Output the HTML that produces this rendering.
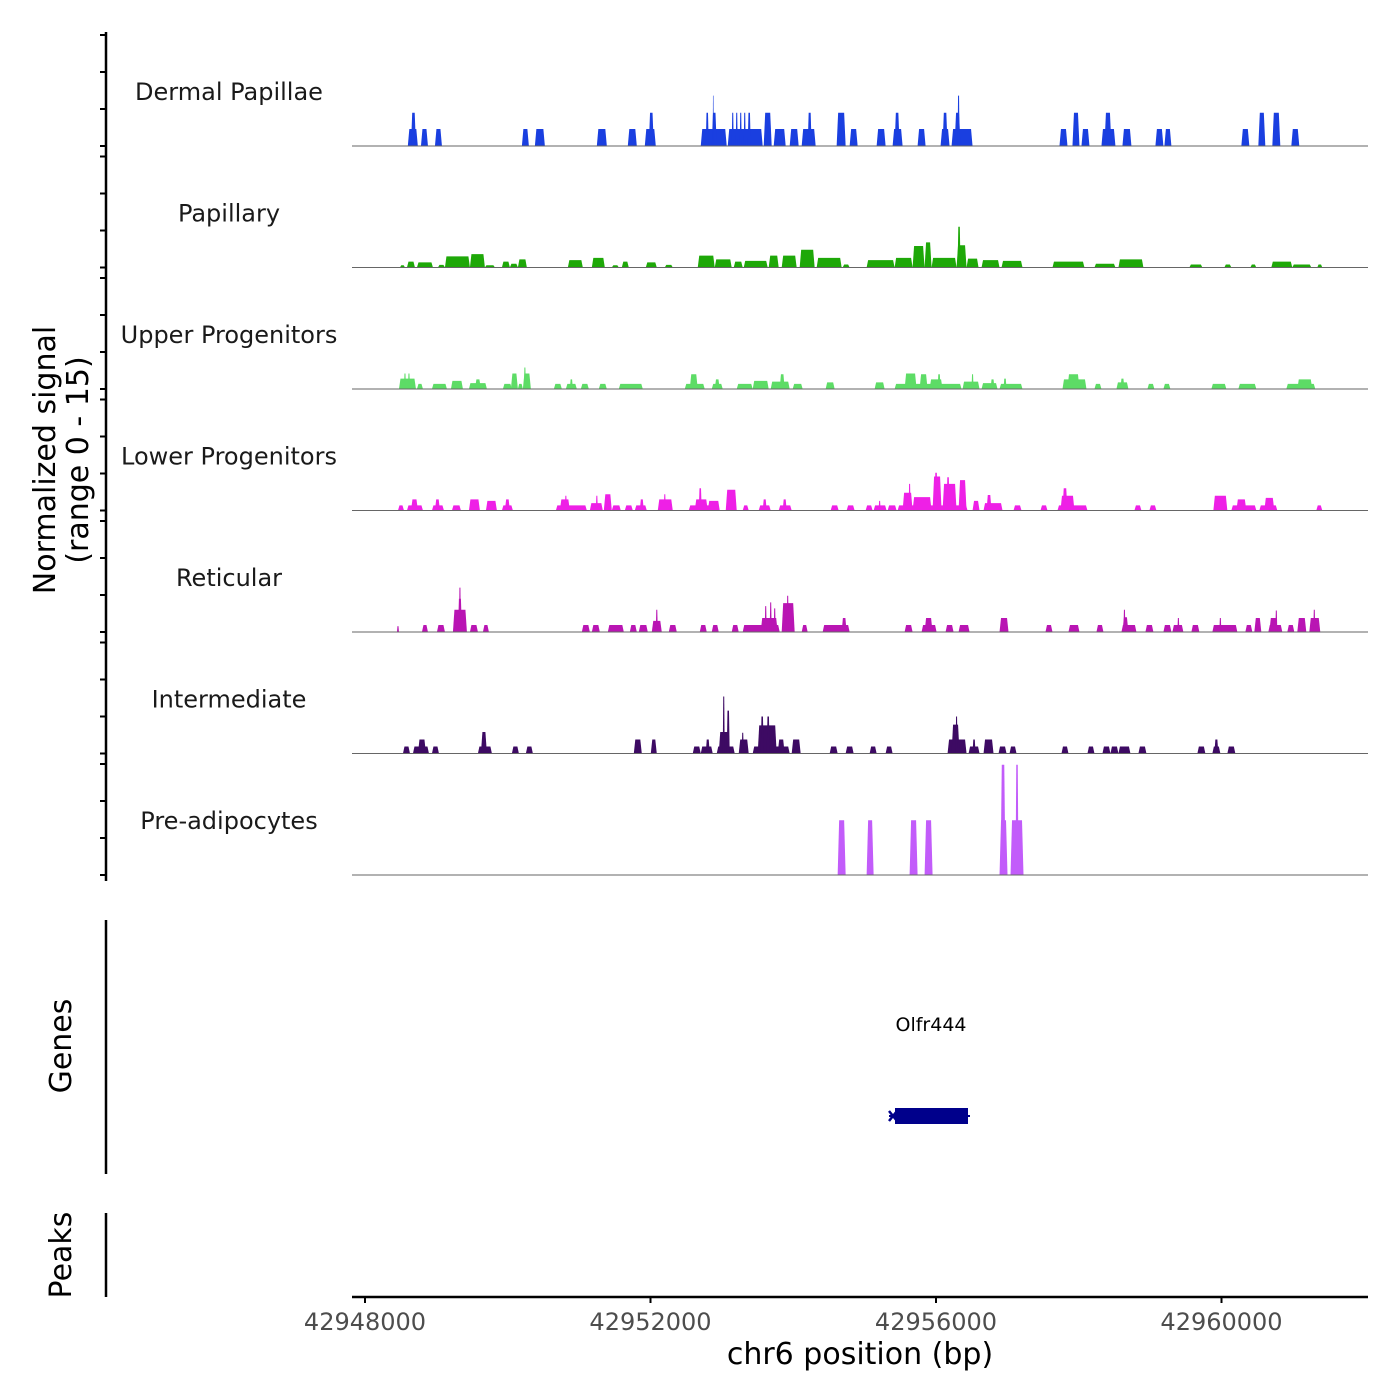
<!DOCTYPE html>
<html><head><meta charset="utf-8"><style>
html,body{margin:0;padding:0;background:#fff;}
svg{display:block;font-family:"DejaVu Sans","Liberation Sans",sans-serif;}
</style></head><body>
<svg id="chart" width="1400" height="1400" viewBox="0 0 1400 1400" xmlns="http://www.w3.org/2000/svg">
<rect width="1400" height="1400" fill="#fff"/>
<g id="tracks"></g>
<g id="axes"></g>
<text x="0" y="0" transform="translate(58,460) rotate(-90)" text-anchor="middle" font-size="30" fill="#000"><tspan x="0" dy="-3">Normalized signal</tspan><tspan x="0" dy="33">(range 0 - 15)</tspan></text>
<line x1="106" y1="920" x2="106" y2="1174" stroke="#000" stroke-width="2.5"/>
<text transform="translate(71,1046) rotate(-90)" text-anchor="middle" font-size="30" fill="#000">Genes</text>
<line x1="106" y1="1213" x2="106" y2="1297" stroke="#000" stroke-width="2.5"/>
<text transform="translate(71,1255) rotate(-90)" text-anchor="middle" font-size="30" fill="#000">Peaks</text>
<g>
<text x="931" y="1031" text-anchor="middle" font-size="19" fill="#000">Olfr444</text>
<line x1="889" y1="1116" x2="970" y2="1116" stroke="#00008b" stroke-width="2"/>
<rect x="895" y="1108" width="73" height="16" fill="#00008b"/>
<path d="M889,1111 L897,1121 M889,1121 L897,1111" fill="none" stroke="#00008b" stroke-width="2.5"/>
</g>
<text x="860" y="1364" text-anchor="middle" font-size="30" fill="#000">chr6 position (bp)</text>
</svg>
<script>
const regionStart = 42948000;
const trackNames = ["Dermal Papillae","Papillary","Upper Progenitors","Lower Progenitors","Reticular","Intermediate","Pre-adipocytes"];
const trackColors = ["#1a3fe0","#1ea808","#5ddc66","#ee20e6","#b915b3","#3d0a63","#c25cfa"];
const xTicks = [42948000, 42952000, 42956000, 42960000];
const yTicks = [0, 5, 10, 15];
// segments: [start offset bp, end offset bp, signal]
const dermalPapillae = [[600,740,2.3],[644,714,4.5],[784,882,2.3],[980,1078,2.3],[2198,2296,2.3],[2380,2520,2.3],[3248,3388,2.3],[3682,3808,2.3],[3920,4074,2.3],[3976,4046,4.5],[4704,5068,2.3],[4774,4816,4.5],[4858,4928,4.5],[4872,4886,6.8],[5082,5572,2.3],[5138,5166,4.5],[5194,5222,4.5],[5250,5278,4.5],[5306,5334,4.5],[5362,5404,4.5],[5586,5698,4.5],[5726,5894,2.3],[5950,6076,2.3],[6118,6314,2.3],[6202,6258,4.5],[6608,6734,4.5],[6790,6902,2.3],[7168,7294,2.3],[7392,7532,2.3],[7420,7490,4.5],[7742,7854,2.3],[8064,8190,2.3],[8092,8162,4.5],[8218,8512,2.3],[8260,8344,4.5],[8302,8330,6.8],[9730,9842,2.3],[9912,10010,4.5],[10038,10150,2.3],[10318,10514,2.3],[10360,10458,4.5],[10612,10738,2.3],[11074,11186,2.3],[11200,11298,2.3],[12278,12390,2.3],[12516,12614,4.5],[12712,12824,4.5],[12978,13090,2.3]];
const papillary = [[490,560,0.3],[588,700,0.8],[728,952,0.7],[1022,1120,0.35],[1120,1470,1.5],[1470,1680,1.8],[1680,1820,0.3],[1918,2030,0.8],[2030,2142,0.5],[2142,2268,1.1],[2842,3052,1.0],[3178,3360,1.3],[3458,3556,0.3],[3598,3696,0.8],[3934,4088,0.7],[4200,4312,0.35],[4662,4900,1.6],[4900,5138,1.1],[5166,5292,0.8],[5306,5642,0.9],[5656,5796,1.6],[5838,6048,1.6],[6090,6300,2.4],[6328,6678,1.3],[6692,6790,0.4],[7028,7420,1.0],[7420,7672,1.3],[7672,7840,2.9],[7840,7938,3.4],[7938,8288,1.3],[8288,8428,3.0],[8302,8344,5.5],[8428,8596,1.2],[8638,8890,1.0],[8918,9212,0.9],[9632,10080,0.8],[10220,10514,0.5],[10556,10906,1.1],[11550,11732,0.4],[12040,12138,0.4],[12404,12488,0.4],[12698,12992,0.8],[12992,13258,0.4],[13342,13412,0.4]];
const upperProgenitors = [[476,714,1.4],[546,574,2.1],[602,630,2.1],[728,812,0.7],[938,1148,0.7],[1204,1372,1.1],[1456,1708,0.8],[1540,1624,1.3],[1932,2058,0.7],[2044,2142,2.1],[2142,2212,0.7],[2212,2324,2.1],[2226,2254,2.9],[2646,2758,0.7],[2814,2968,0.7],[2870,2912,1.3],[3024,3136,0.7],[3276,3388,0.7],[3556,3892,0.7],[4480,4760,0.7],[4550,4662,2.0],[4858,5012,0.7],[4900,4970,1.3],[5208,5432,0.7],[5432,5656,1.1],[5684,5950,1.0],[5810,5880,2.0],[5992,6132,0.7],[6454,6580,0.9],[7140,7280,0.9],[7420,8358,0.7],[7560,7728,2.1],[7770,7882,2.0],[7910,8092,1.3],[8022,8064,2.0],[8372,8610,1.0],[8498,8526,2.0],[8638,8862,0.8],[8764,8820,1.3],[8890,9212,0.7],[8946,8988,1.4],[9772,10108,1.3],[9842,10010,2.0],[10220,10318,0.7],[10528,10696,0.9],[10584,10640,1.4],[10962,11060,0.7],[11186,11284,0.7],[11858,12068,0.7],[12236,12488,0.7],[12908,13314,0.7],[13062,13272,1.3]];
const lowerProgenitors = [[462,546,0.7],[588,812,0.7],[644,742,1.5],[938,1106,0.7],[980,1050,1.5],[1218,1344,0.7],[1456,1610,1.5],[1694,1848,1.3],[1918,2072,0.7],[1960,2030,1.5],[2674,3108,0.7],[2730,2870,1.5],[2800,2828,2.0],[3150,3332,1.0],[3234,3262,2.0],[3346,3458,2.2],[3458,3584,0.7],[3640,3752,0.7],[3780,3948,0.7],[3850,3906,1.5],[4102,4312,1.5],[4186,4214,2.2],[4536,4970,0.7],[4620,4802,1.5],[4676,4718,3.0],[4802,4970,1.3],[5054,5208,2.8],[5292,5376,0.7],[5516,5684,0.7],[5572,5628,1.5],[5796,5978,0.7],[5852,5908,1.5],[6524,6636,0.7],[6748,6860,0.7],[7014,7112,0.7],[7126,7308,0.7],[7196,7224,1.3],[7322,7448,0.7],[7462,8442,0.7],[7532,7672,2.4],[7616,7644,3.6],[7672,7938,1.8],[7952,8078,4.6],[7980,8022,5.1],[8092,8288,3.6],[8148,8190,4.5],[8316,8428,4.1],[8512,8610,1.3],[8666,8932,1.0],[8708,8778,2.1],[9086,9198,0.7],[9464,9562,0.7],[9702,10122,0.7],[9744,9940,2.0],[9772,9842,3.0],[10780,10878,0.7],[10990,11088,0.7],[11886,12082,2.0],[12138,12488,0.7],[12208,12348,1.5],[12530,12782,0.7],[12600,12740,1.7],[13328,13412,0.7]];
const reticular = [[448,476,0.8],[798,882,0.95],[1008,1120,0.95],[1232,1428,3.0],[1302,1358,4.5],[1316,1344,6.0],[1470,1582,0.95],[1652,1736,0.95],[3038,3150,0.95],[3178,3290,0.95],[3402,3626,0.95],[3710,3808,0.95],[3836,3962,0.95],[4018,4158,1.5],[4074,4102,3.0],[4256,4368,0.95],[4690,4788,0.95],[4858,4956,0.95],[5138,5236,0.95],[5292,5810,0.95],[5544,5782,1.9],[5600,5628,3.5],[5670,5698,4.0],[5726,5754,3.2],[5838,6020,3.9],[5908,5936,4.9],[6118,6202,0.95],[6412,6790,0.95],[6678,6748,1.9],[7560,7672,0.95],[7798,8008,0.95],[7840,7952,1.9],[8134,8246,0.95],[8316,8470,0.95],[8890,9016,1.9],[9534,9632,0.95],[9856,10010,0.95],[10248,10346,0.95],[10598,10808,0.95],[10612,10696,2.0],[10626,10654,3.0],[10934,11046,0.95],[11186,11298,0.95],[11312,11466,0.95],[11382,11410,1.9],[11578,11690,0.95],[11872,12222,0.95],[11970,11998,1.9],[12334,12432,0.95],[12460,12558,1.9],[12656,12852,0.95],[12670,12782,1.9],[12754,12782,2.9],[12922,13020,0.95],[13062,13188,1.9],[13230,13384,1.9],[13286,13314,3.0]];
const intermediate = [[532,630,0.95],[672,896,0.95],[742,854,1.9],[938,1036,0.95],[1582,1778,0.95],[1624,1708,2.9],[2058,2156,0.95],[2254,2352,0.95],[3766,3878,1.9],[4004,4088,1.9],[4592,4704,0.95],[4704,4872,0.95],[4774,4830,1.9],[4928,5180,0.95],[4956,5110,2.9],[5012,5040,7.7],[5068,5110,5.8],[5236,5376,1.9],[5278,5306,2.8],[5432,5950,0.95],[5502,5768,3.8],[5544,5586,5.0],[5628,5670,5.0],[5782,5880,1.9],[5978,6104,1.9],[6510,6622,0.95],[6734,6846,0.95],[7070,7168,0.95],[7294,7392,0.95],[8162,8428,1.9],[8218,8330,3.9],[8274,8302,5.0],[8456,8610,0.95],[8512,8554,1.9],[8666,8806,1.9],[8876,8988,0.95],[9030,9128,0.95],[9758,9856,0.95],[10122,10220,0.95],[10332,10444,0.95],[10444,10556,0.95],[10556,10724,0.95],[10836,10948,0.95],[11662,11774,0.95],[11872,11984,0.95],[11900,11956,1.9],[12082,12194,0.95]];
const preAdipocytes = [[6622,6734,7.4],[7028,7126,7.4],[7630,7742,7.4],[7840,7952,7.4],[8890,9002,7.4],[8904,8974,14.9],[9044,9226,7.4],[9114,9156,14.9]];
const trackData = [dermalPapillae, papillary, upperProgenitors, lowerProgenitors, reticular, intermediate, preAdipocytes];

const NS = "http://www.w3.org/2000/svg";
const plotLeft = 352, plotRight = 1368;
function xScale(bp){ return 365 + (bp - 42948000) * 285.5 / 4000; }
function baseline(i){ return 146 + i * 121.5; }
function yScale(i, v){ return baseline(i) - v * 7.4; }
function mk(tag, attrs){ const e = document.createElementNS(NS, tag); for (const k in attrs) e.setAttribute(k, attrs[k]); return e; }

const tracksG = document.getElementById('tracks');
const axesG = document.getElementById('axes');

trackData.forEach((segs, i) => {
  const g = mk('g', {});
  
  
  const b = baseline(i);
  segs.forEach(s => {
    const x1 = xScale(regionStart + s[0]), x2 = xScale(regionStart + s[1]);
    const yt = yScale(i, s[2]);
    const sl = Math.min(1.5, (x2 - x1) / 4);
    const p = mk('polygon', {points: `${x1},${b} ${x1+sl},${yt} ${x2-sl},${yt} ${x2},${b}`, fill: trackColors[i]});
    
    
    g.appendChild(p);
  });
  const bl = mk('line', {x1: plotLeft, x2: plotRight, y1: b, y2: b, stroke: '#666', 'stroke-width': 1});
  
  
  g.appendChild(bl);
  const t = mk('text', {x: 229, y: b - 46, 'text-anchor': 'middle', 'font-size': 24, fill: '#1a1a1a'});
  t.textContent = trackNames[i];
  
  
  g.appendChild(t);
  tracksG.appendChild(g);
  yTicks.forEach(v => {
    const y = yScale(i, v);
    const tk = mk('line', {x1: 100, x2: 106, y1: y, y2: y, stroke: '#000', 'stroke-width': 2});
    
    
    axesG.appendChild(tk);
  });
});
const yAxis = mk('line', {x1: 106, x2: 106, y1: 32, y2: 881, stroke: '#000', 'stroke-width': 2.5});


axesG.appendChild(yAxis);
const xAxis = mk('line', {x1: plotLeft, x2: plotRight, y1: 1297, y2: 1297, stroke: '#000', 'stroke-width': 2.5});


axesG.appendChild(xAxis);
xTicks.forEach(v => {
  const x = xScale(v);
  const tk = mk('line', {x1: x, x2: x, y1: 1297, y2: 1303, stroke: '#000', 'stroke-width': 2});
  
  
  axesG.appendChild(tk);
  const lb = mk('text', {x: x, y: 1330, 'text-anchor': 'middle', 'font-size': 24, fill: '#4d4d4d'});
  lb.textContent = String(v);
  
  
  axesG.appendChild(lb);
});
</script>
</body></html>
